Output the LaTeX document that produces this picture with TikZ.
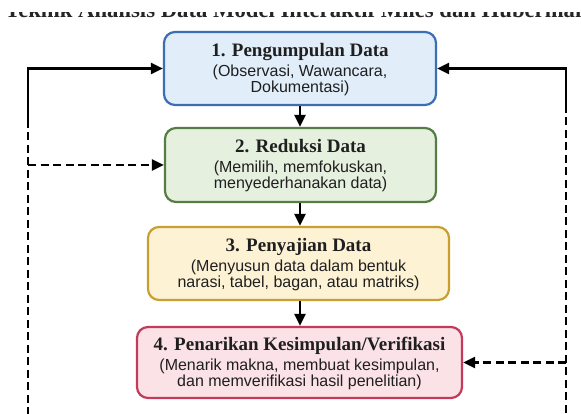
\documentclass[tikz,border=0pt]{standalone}
\usepackage{fontspec}
\usetikzlibrary{arrows.meta}
\newfontfamily\ttlfont{Liberation Serif}
\newfontfamily\subfont{Liberation Sans}
\definecolor{bAfill}{HTML}{E2EDFA}
\definecolor{bAdraw}{HTML}{3C6EB4}
\definecolor{bBfill}{HTML}{E6F0DF}
\definecolor{bBdraw}{HTML}{557D46}
\definecolor{bCfill}{HTML}{FEF2D5}
\definecolor{bCdraw}{HTML}{C8A032}
\definecolor{bDfill}{HTML}{FBE2E6}
\definecolor{bDdraw}{HTML}{C33A5A}
\tikzset{
  stagebox/.style={draw, rounded corners=11pt, line width=2.2pt, inner sep=0pt},
  stagetext/.style={align=center, inner sep=0pt, text=black!88, anchor=north,
    font=\subfont\fontsize{16}{16.5}\selectfont},
  conn/.style={line width=2.2pt, draw=black},
  tip/.style={-{Triangle[length=12pt,width=11pt]}},
  dashline/.style={dash pattern=on 8pt off 4.5pt}
}
\newcommand{\stagetitle}[1]{{\ttlfont\bfseries\fontsize{19}{19}\selectfont #1}}
\begin{document}
\begin{tikzpicture}[x=1pt,y=1pt]
\useasboundingbox (0,0) rectangle (581,414);
\fill[white] (0,0) rectangle (581,414);
\begin{scope}
\clip (0,396.5) rectangle (581,401);
\node[anchor=base west, inner sep=0pt, text=black!85,
  font=\ttlfont\bfseries\fontsize{22.7}{24}\selectfont] (heading) at (5,396.6)
  {Teknik Analisis Data Model Interaktif Miles dan Huberman};
\end{scope}

\node[stagebox, fill=bAfill, draw=bAdraw, minimum width=272pt, minimum height=73pt] (n1) at (300,345.5) {};
\node[stagebox, fill=bBfill, draw=bBdraw, minimum width=271pt, minimum height=74pt] (n2) at (300.5,249) {};
\node[stagebox, fill=bCfill, draw=bCdraw, minimum width=301pt, minimum height=73pt] (n3) at (298.5,150.5) {};
\node[stagebox, fill=bDfill, draw=bDdraw, minimum width=325pt, minimum height=71pt] (n4) at (299.5,51.5) {};

\node[stagetext] (t1) at ([yshift=-12.5pt]n1.north) {\stagetitle{1. Pengumpulan Data}\\[3pt](Observasi, Wawancara,\\Dokumentasi)};
\node[stagetext] (t2) at ([yshift=-12.5pt]n2.north) {\stagetitle{2. Reduksi Data}\\[3pt](Memilih, memfokuskan,\\menyederhanakan data)};
\node[stagetext] (t3) at ([yshift=-12.5pt]n3.north) {\stagetitle{3. Penyajian Data}\\[3pt](Menyusun data dalam bentuk\\narasi, tabel, bagan, atau matriks)};
\node[stagetext] (t4) at ([yshift=-11.5pt]n4.north) {\stagetitle{4. Penarikan Kesimpulan/Verifikasi}\\[3pt](Menarik makna, membuat kesimpulan,\\dan memverifikasi hasil penelitian)};

\draw[conn, tip] (n1.south) -- (n1.south |- n2.north);
\draw[conn, tip] (n1.south |- n2.south) -- (n1.south |- n3.north);
\draw[conn, tip] (n1.south |- n3.south) -- (n1.south |- n4.north);

\coordinate (lm) at (28,294);
\coordinate (lb) at (28,0);
\coordinate (rm) at (566,309);
\coordinate (rb) at (566,0);

\draw[conn, tip] (lm) |- (n1.west);
\draw[conn, dashline] (lm) -- (lb);
\draw[conn, dashline, tip] (lm |- n2.west) -- (n2.west);

\draw[conn, tip] (rm) |- (n1.east);
\draw[conn, dashline] (rm) -- (rb);
\draw[conn, dashline, tip] (rm |- n4.east) -- (n4.east);
\end{tikzpicture}
\end{document}
